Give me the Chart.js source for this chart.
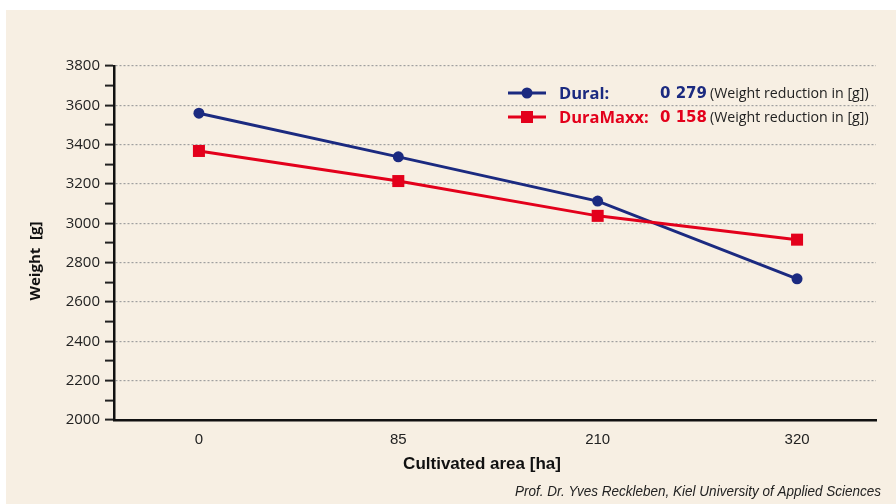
<!DOCTYPE html>
<html>
<head>
<meta charset="utf-8">
<script src="https://cdn.jsdelivr.net/npm/chart.js@4"></script>
<style>
  html, body { margin: 0; padding: 0; background: #fff; }
  #wrap { width: 896px; height: 504px; position: relative; }
</style>
</head>
<body>
<div id="wrap"><canvas id="chart" width="896" height="504"></canvas></div>
<script>
// data
const categories = ['0', '85', '210', '320'];
const duralValues = [3560, 3338, 3113, 2718];
const duraMaxxValues = [3368, 3215, 3038, 2917];
const yTicks = [2000, 2200, 2400, 2600, 2800, 3000, 3200, 3400, 3600, 3800];
const legendNames = ['Dural:', 'DuraMaxx:'];
const legendAvg = ['0 279', '0 158'];
const legendNote = '(Weight reduction in [g])';

const BLUE = '#1b2a80';
const RED = '#e3001b';
const CREAM = '#f7efe3';

const backdrop = {
  id: 'backdrop',
  beforeDraw(chart) {
    const ctx = chart.ctx;
    ctx.save();
    ctx.fillStyle = '#fff';
    ctx.fillRect(0, 0, chart.width, chart.height);
    ctx.fillStyle = CREAM;
    ctx.fillRect(6, 10, chart.width - 6, chart.height - 10);
    ctx.restore();
  }
};

// squeeze text to a given width (the original uses a condensed face)
function narrowText(ctx, text, x, y, width, align) {
  const w = ctx.measureText(text).width;
  const s = Math.min(1, width / w);
  ctx.save();
  ctx.translate(x, y);
  ctx.scale(s, 1);
  ctx.textAlign = align;
  ctx.fillText(text, 0, 0);
  ctx.restore();
}

const extras = {
  id: 'extras',
  afterDraw(chart) {
    const ctx = chart.ctx;
    ctx.save();
    // axis titles
    ctx.fillStyle = '#111';
    ctx.textBaseline = 'middle';
    ctx.font = 'bold 17px "Liberation Sans"';
    narrowText(ctx, 'Cultivated area [ha]', 482, 464, 158, 'center');
    ctx.save();
    ctx.translate(36, 261);
    ctx.rotate(-Math.PI / 2);
    ctx.textAlign = 'center';
    ctx.font = 'bold 15px "Open Sans"';
    ctx.fillText('Weight  [g]', 0, 0);
    ctx.restore();
    // source note
    ctx.font = 'italic 14px "Liberation Sans"';
    ctx.fillStyle = '#222';
    narrowText(ctx, 'Prof. Dr. Yves Reckleben, Kiel University of Applied Sciences', 881, 492, 366, 'right');

    // legend
    const colors = [BLUE, RED];
    const rows = [93, 117];
    for (let i = 0; i < 2; i++) {
      const y = rows[i];
      ctx.strokeStyle = colors[i];
      ctx.lineWidth = 3;
      ctx.beginPath();
      ctx.moveTo(508, y);
      ctx.lineTo(546, y);
      ctx.stroke();
      ctx.fillStyle = colors[i];
      if (i === 0) {
        ctx.beginPath();
        ctx.arc(527, y, 5.5, 0, Math.PI * 2);
        ctx.fill();
      } else {
        ctx.fillRect(521, y - 6, 12, 12);
      }
      ctx.textAlign = 'left';
      ctx.font = 'bold 16.5px "Open Sans"';
      ctx.fillText(legendNames[i], 559, y + 1);
      ctx.font = 'bold 15px "DejaVu Sans"';
      ctx.fillText(legendAvg[i], 660, y + 1);
      ctx.fillStyle = '#222';
      ctx.font = '14.2px "Open Sans"';
      ctx.fillText(legendNote, 710, y + 1);
    }
    ctx.restore();
  }
};

const toPoints = vals => vals.map((v, i) => ({ x: i, y: v }));

new Chart(document.getElementById('chart'), {
  type: 'line',
  data: {
    datasets: [
      {
        label: 'Dural',
        data: toPoints(duralValues),
        borderColor: BLUE,
        backgroundColor: BLUE,
        borderWidth: 3,
        pointStyle: 'circle',
        pointRadius: 5.5,
        pointBorderWidth: 0,
        order: 2
      },
      {
        label: 'DuraMaxx',
        data: toPoints(duraMaxxValues),
        borderColor: RED,
        backgroundColor: RED,
        borderWidth: 3,
        pointStyle: 'rect',
        pointRadius: 8.5,
        pointBorderWidth: 0,
        order: 1
      }
    ]
  },
  options: {
    responsive: false,
    animation: false,
    layout: { padding: { top: 66, right: 20, left: 0, bottom: 0 } },
    plugins: { legend: { display: false }, tooltip: { enabled: false } },
    scales: {
      x: {
        type: 'linear',
        min: -0.426,
        max: 3.396,
        afterBuildTicks(scale) {
          scale.ticks = categories.map((c, i) => ({ value: i }));
        },
        afterFit(scale) { scale.height = 84; },
        grid: { display: false },
        border: { display: true, color: '#111', width: 2.5 },
        ticks: {
          padding: 3,
          color: '#222',
          font: { family: 'Liberation Sans', size: 15 },
          callback: v => categories[v]
        }
      },
      y: {
        min: 2000,
        max: 3800,
        afterBuildTicks(scale) {
          const t = [];
          for (let v = 2000; v <= 3800; v += 100) t.push({ value: v });
          scale.ticks = t;
        },
        afterFit(scale) { scale.width = 114; },
        border: { display: true, color: '#111', width: 2.5, dash: [2, 2] },
        grid: {
          color: c => (c.tick && c.tick.value % 200 === 0 && c.tick.value !== 2000) ? '#a0a0a0' : 'rgba(0,0,0,0)',
          lineWidth: 1.2,
          tickColor: '#222',
          tickLength: 9,
          tickWidth: 2
        },
        ticks: {
          padding: 5,
          color: '#222',
          font: { family: 'Open Sans', size: 15 },
          autoSkip: false,
          callback: v => yTicks.includes(v) ? String(v) : ''
        }
      }
    }
  },
  plugins: [backdrop, extras]
});
</script>
</body>
</html>
